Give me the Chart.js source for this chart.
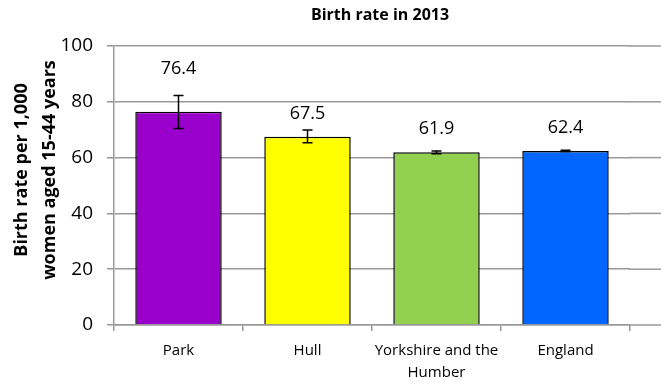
<!DOCTYPE html>
<html>
<head>
<meta charset="utf-8">
<script src="https://cdn.jsdelivr.net/npm/chart.js@4"></script>
<style>
  html, body { margin: 0; padding: 0; background: #fff; }
  #wrap { width: 661px; height: 385px; }
</style>
</head>
<body>
<div id="wrap"><canvas id="chart" width="661" height="385"></canvas></div>
<script>
const areas = ['Park', 'Hull', ['Yorkshire and the', 'Humber'], 'England'];
const birthRates = [76.4, 67.5, 61.9, 62.4];
const lowerCI = [70.4, 65.3, 61.4, 62.2];
const upperCI = [82.3, 69.9, 62.4, 62.6];
const barColours = ['#9900CC', '#FFFF00', '#92D050', '#0066FF'];
const yTicks = [0, 20, 40, 60, 80, 100];

const FONT = '"Open Sans", Lato, sans-serif';

// error bars, value labels, titles
const extras = {
    id: 'extras',
    afterDatasetsDraw(chart) {
        const ctx = chart.ctx;
        const y = chart.scales.y;
        const meta = chart.getDatasetMeta(0);
        ctx.save();
        meta.data.forEach((bar, i) => {
            const top = y.getPixelForValue(upperCI[i]);
            const bot = y.getPixelForValue(lowerCI[i]);
            ctx.strokeStyle = '#000';
            ctx.lineWidth = 1.5;
            ctx.beginPath();
            ctx.moveTo(bar.x, top); ctx.lineTo(bar.x, bot);
            ctx.moveTo(bar.x - 5, top); ctx.lineTo(bar.x + 5, top);
            ctx.moveTo(bar.x - 5, bot); ctx.lineTo(bar.x + 5, bot);
            ctx.stroke();

            let ly = y.getPixelForValue(birthRates[i]) - 23;
            if (ly + 9 > top) ly = top - 27;
            ctx.fillStyle = '#000';
            ctx.font = '18px ' + FONT;
            ctx.textAlign = 'center';
            ctx.textBaseline = 'middle';
            ctx.fillText(birthRates[i].toFixed(1), bar.x, ly);
        });

        // gridlines and axis line run on to the edge of the picture
        const area = chart.chartArea;
        ctx.strokeStyle = '#999';
        ctx.lineWidth = 1.5;
        yTicks.forEach(t => {
            const py = y.getPixelForValue(t);
            ctx.beginPath();
            ctx.moveTo(area.right - 1, py); ctx.lineTo(chart.width, py);
            ctx.stroke();
        });

        // chart title
        ctx.fillStyle = '#000';
        ctx.textAlign = 'center';
        ctx.textBaseline = 'middle';
        ctx.font = 'bold 16px ' + FONT;
        ctx.fillText('Birth rate in 2013', 380, 15);

        // axis title
        ctx.font = 'bold 18px ' + FONT;
        ctx.translate(0, 170);
        ctx.rotate(-Math.PI / 2);
        ctx.fillText('Birth rate per 1,000', 0, 22);
        ctx.fillText('women aged 15-44 years', 0, 50);
        ctx.restore();
    }
};

new Chart(document.getElementById('chart'), {
    type: 'bar',
    data: {
        labels: areas,
        datasets: [{
            data: birthRates,
            backgroundColor: barColours,
            borderColor: '#000',
            borderWidth: 1.5,
            borderSkipped: 'bottom',
            categoryPercentage: 0.67,
            barPercentage: 1
        }]
    },
    options: {
        responsive: false,
        animation: false,
        layout: { padding: { left: 0, right: 31, top: 46, bottom: 0 } },
        plugins: {
            legend: { display: false },
            tooltip: { enabled: false },
            title: { display: false }
        },
        scales: {
            x: {
                grid: {
                    display: true,
                    drawOnChartArea: false,
                    tickLength: 6,
                    color: c => (c.index >= areas.length ? 'rgba(0,0,0,0)' : '#999'),
                    lineWidth: 1.5,
                    offset: true
                },
                border: { color: '#999', width: 1.5 },
                ticks: {
                    color: '#000',
                    font: { family: FONT, size: 15, lineHeight: 1.5 },
                    padding: 8,
                    maxRotation: 0,
                    autoSkip: false
                },
                afterFit(s) { s.height = 60; }
            },
            y: {
                min: 0,
                max: 100,
                afterBuildTicks(s) { s.ticks = yTicks.map(v => ({ value: v })); },
                grid: { color: '#999', lineWidth: 1.5, tickLength: 7 },
                border: { color: '#999', width: 1.5 },
                ticks: {
                    color: '#000',
                    font: { family: FONT, size: 19 },
                    padding: 14
                },
                afterFit(s) { s.width = 114; }
            }
        }
    },
    plugins: [extras]
});
</script>
</body>
</html>
